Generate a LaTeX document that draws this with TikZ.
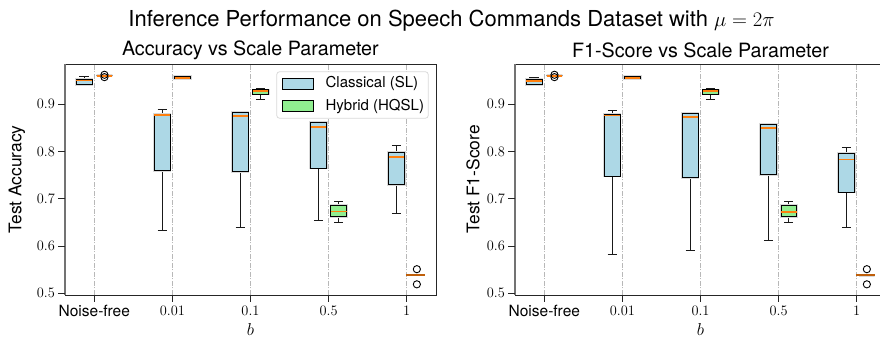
\documentclass[tikz,border=0pt]{standalone}
\usepackage{fontspec}
\setsansfont{TeX Gyre Heros}
\usetikzlibrary{positioning}
\definecolor{boxblue}{HTML}{ADD8E6}
\definecolor{boxgreen}{HTML}{90EE90}
\definecolor{medorange}{HTML}{FF7F0E}
\definecolor{gridgray}{HTML}{B8B8B8}
\tikzset{
    %Define style for the axes frame
    spine/.style={draw=black!85, line width=0.8pt},
    %Define style for the dash-dotted grid
    gridline/.style={draw=gridgray, line width=0.6pt,
           dash pattern=on 5pt off 1.5pt on 1pt off 1.5pt},
    tickmark/.style={draw=black!85, line width=0.8pt},
    ticklabel/.style={font=\fontsize{15.5}{17}\selectfont, inner sep=0pt},
    % Define styles for the box plots
    halo/.style={draw=black!15, line width=2.6pt},
    boxedge/.style={draw=black, line width=0.9pt},
    whisker/.style={draw=black!90, line width=0.9pt},
    median/.style={draw=medorange, line width=1.8pt},
    flier/.style={draw=black, line width=0.9pt},
    % Define standard text styles
    titletext/.style={font=\sffamily\fontsize{22}{24}\selectfont, inner sep=0pt},
    subtitle/.style={font=\sffamily\fontsize{19.7}{22}\selectfont, inner sep=0pt},
    axlabel/.style={font=\sffamily\fontsize{17.4}{19}\selectfont, inner sep=0pt},
    legpatch/.style={rectangle, draw=black, line width=0.9pt,
           minimum width=30.6pt, minimum height=11pt, inner sep=0pt},
    legtext/.style={font=\sffamily\fontsize{15}{17}\selectfont, inner sep=0pt}
}
% one box: position, fill, whislo, q1, median, q3, whishi
\newcommand{\bxp}[7]{%
  \draw[whisker] (#1,#3) -- (#1,#4) (#1,#6) -- (#1,#7);
  \draw[whisker] ({#1-0.06},#3) -- ({#1+0.06},#3) ({#1-0.06},#7) -- ({#1+0.06},#7);
  \draw[halo] ({#1-0.1},#4) rectangle ({#1+0.1},#6);
  \filldraw[boxedge, fill=#2] ({#1-0.1},#4) rectangle ({#1+0.1},#6);
  \draw[median] ({#1-0.1},#5) -- ({#1+0.1},#5);
}

\begin{document}
\begin{tikzpicture}[x=1pt, y=1pt]
  \useasboundingbox (0,0) rectangle (880,338);

  \node[titletext] (title) at (451.5,317) {Inference Performance on Speech Commands Dataset with $\mu = 2\pi$};

  % Accuracy panel
  \begin{scope}[shift={(94.3pt,-191.8pt)}, x=78.1pt, y=473pt]
    \foreach \c in {0,...,4}
      \draw[gridline] (\c,0.4965) -- (\c,0.9848);
    \draw[spine] (-0.375,0.4965) rectangle (4.375,0.9848);
    \draw[spine, draw=black!55, line width=1.2pt] (-0.375,0.4965) -- (-0.375,0.9848);
    \foreach \v in {0.5,0.6,0.7,0.8,0.9} {
      \draw[tickmark] (-0.375,\v) -- ++(-7pt,0);
      \node[ticklabel, anchor=east] (ya\v) at ([xshift=-10pt]-0.375,\v) {$\v$};
    }
    \foreach \c/\lab in {0/{\sffamily Noise-free},1/$0.01$,2/$0.1$,3/$0.5$,4/$1$} {
      \draw[tickmark] (\c,0.4965) -- ++(0,-7pt);
      \node[ticklabel] (xa\c) at ([yshift=-15.7pt]\c,0.4965) {\lab};
    }
    \foreach \c/\wl/\qa/\md/\qb/\wh in {0/0.942/0.942/0.950/0.9525/0.9575,
        1/0.633/0.759/0.8775/0.879/0.888, 2/0.639/0.757/0.875/0.882/0.883,
        3/0.653/0.765/0.852/0.862/0.863, 4/0.669/0.7296/0.7875/0.798/0.812}
      \bxp{\c-0.13}{boxblue}{\wl}{\qa}{\md}{\qb}{\wh};
    \foreach \c/\wl/\qa/\md/\qb/\wh in {0/0.960/0.960/0.960/0.960/0.960,
        1/0.952/0.9535/0.956/0.958/0.959, 2/0.909/0.921/0.927/0.930/0.933,
        3/0.650/0.663/0.673/0.686/0.695, 4/0.539/0.539/0.539/0.539/0.539}
      \bxp{\c+0.13}{boxgreen}{\wl}{\qa}{\md}{\qb}{\wh};
    \foreach \p/\v in {0.13/0.957,0.13/0.962,4.13/0.551,4.13/0.519}
      \draw[flier] (\p,\v) circle[radius=3.6pt];
    \draw[median, draw=medorange!75!black] (3.99,0.539) -- (4.24,0.539);
    \node[subtitle] (subacc) at (1.998,1.0144) {Accuracy vs Scale Parameter};
    \node[axlabel, rotate=90] (ylacc) at ([xshift=-48pt]-0.375,0.7407) {Test Accuracy};
    \node[font=\fontsize{16}{18}\selectfont, inner sep=0pt] (xlacc) at ([yshift=-35pt]2,0.4965) {$b$};
  \end{scope}

  % legend
  \draw[draw=black!15, fill=white, line width=0.8pt, rounded corners=3pt]
    (276.7,219.7) rectangle (428.3,266.3);
  \node[legpatch, fill=boxblue] (pcl) at (298,254.2) {};
  \node[legtext, anchor=west] (tcl) [right=11.7pt of pcl] {Classical (SL)};
  \node[legpatch, fill=boxgreen] (phy) [below=10.5pt of pcl] {};
  \node[legtext, anchor=west] (thy) [right=11.7pt of phy] {Hybrid (HQSL)};

  % F1 panel
  \begin{scope}[shift={(544.3pt,-191.8pt)}, x=78.1pt, y=473pt]
    \foreach \c in {0,...,4}
      \draw[gridline] (\c,0.4965) -- (\c,0.9848);
    \draw[spine] (-0.375,0.4965) rectangle (4.375,0.9848);
    \draw[spine, draw=black!55, line width=1.2pt] (-0.375,0.4965) -- (-0.375,0.9848);
    \foreach \v in {0.5,0.6,0.7,0.8,0.9} {
      \draw[tickmark] (-0.375,\v) -- ++(-7pt,0);
      \node[ticklabel, anchor=east] (yf\v) at ([xshift=-10pt]-0.375,\v) {$\v$};
    }
    \foreach \c/\lab in {0/{\sffamily Noise-free},1/$0.01$,2/$0.1$,3/$0.5$,4/$1$} {
      \draw[tickmark] (\c,0.4965) -- ++(0,-7pt);
      \node[ticklabel] (xf\c) at ([yshift=-15.7pt]\c,0.4965) {\lab};
    }
    \foreach \c/\wl/\qa/\md/\qb/\wh in {0/0.942/0.942/0.949/0.952/0.957,
        1/0.583/0.748/0.876/0.878/0.887, 2/0.591/0.744/0.873/0.8805/0.881,
        3/0.612/0.7516/0.850/0.858/0.859, 4/0.639/0.714/0.783/0.795/0.809}
      \bxp{\c-0.13}{boxblue}{\wl}{\qa}{\md}{\qb}{\wh};
    \foreach \c/\wl/\qa/\md/\qb/\wh in {0/0.960/0.960/0.960/0.960/0.960,
        1/0.952/0.9535/0.956/0.958/0.959, 2/0.909/0.921/0.927/0.930/0.933,
        3/0.650/0.663/0.672/0.686/0.695, 4/0.538/0.538/0.538/0.538/0.538}
      \bxp{\c+0.13}{boxgreen}{\wl}{\qa}{\md}{\qb}{\wh};
    \foreach \p/\v in {0.13/0.957,0.13/0.962,4.13/0.551,4.13/0.519}
      \draw[flier] (\p,\v) circle[radius=3.6pt];
    \draw[median, draw=medorange!75!black] (3.99,0.538) -- (4.24,0.538);
    \node[subtitle] (subf1) at (2.0,1.0144) {F1-Score vs Scale Parameter};
    \node[axlabel, rotate=90] (ylf1) at ([xshift=-42pt]-0.375,0.7407) {Test F1-Score};
    \node[font=\fontsize{16}{18}\selectfont, inner sep=0pt] (xlf1) at ([yshift=-35pt]2,0.4965) {$b$};
  \end{scope}
\end{tikzpicture}
\end{document}
